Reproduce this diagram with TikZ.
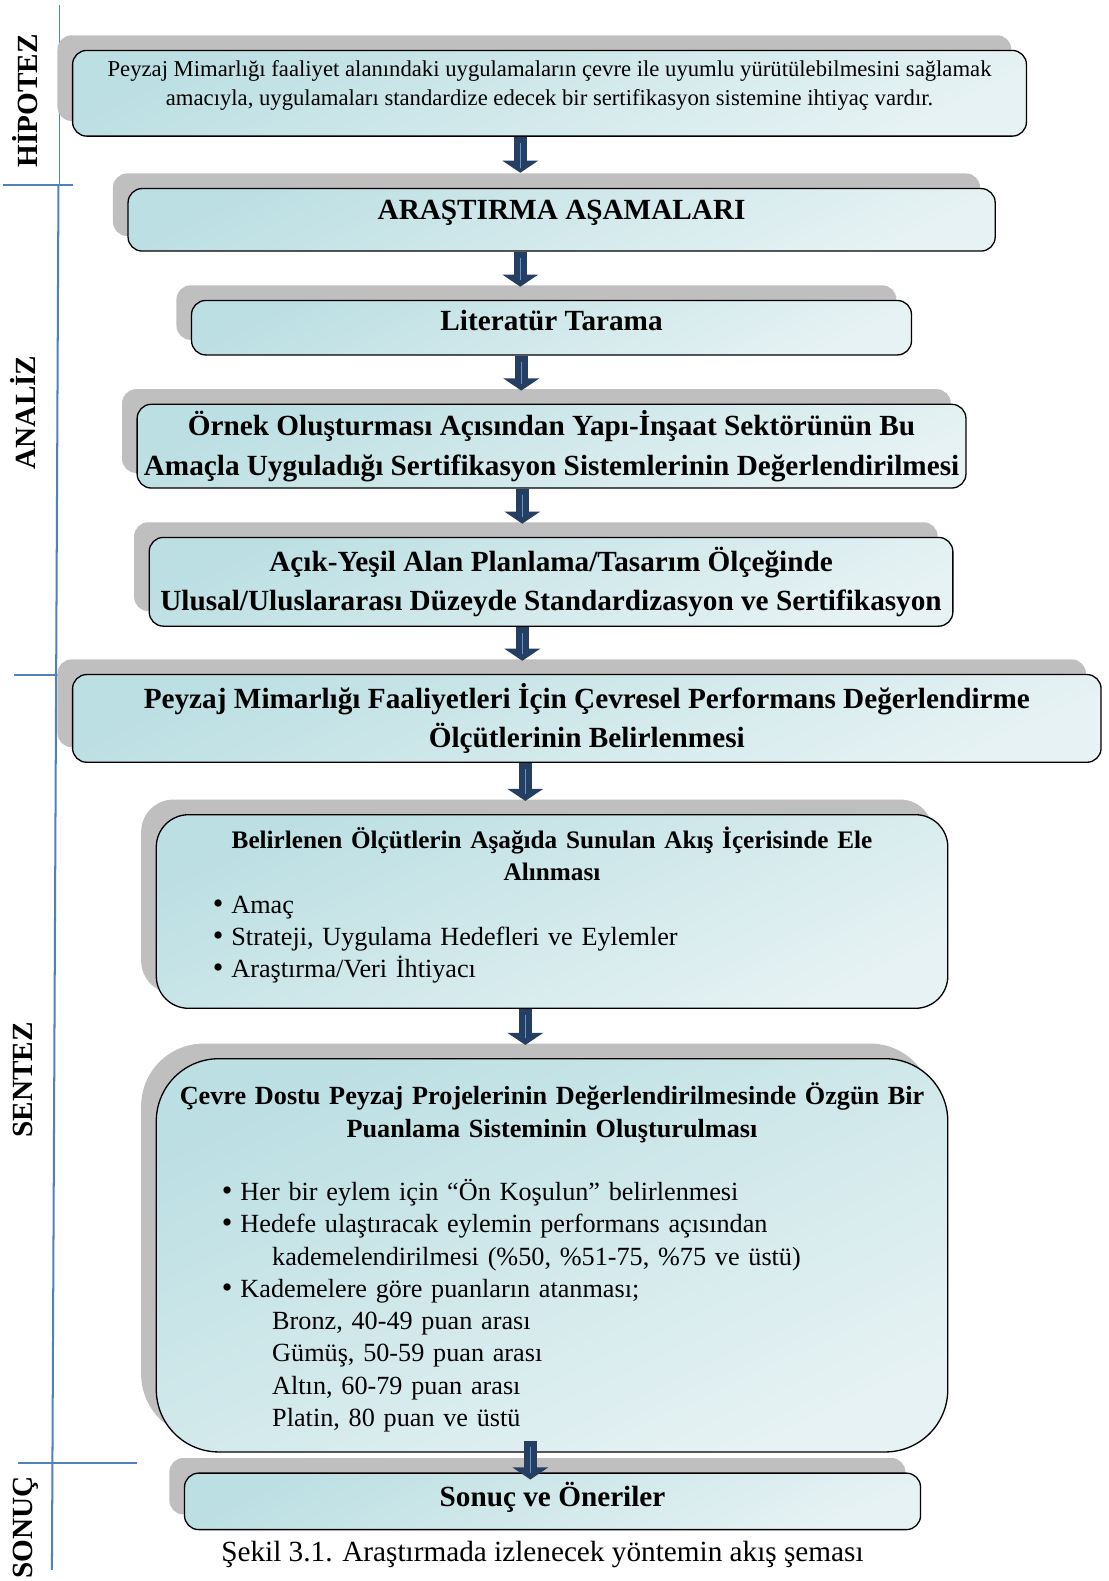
\documentclass[tikz,border=0pt]{standalone}
\usepackage{fontspec}
\setmainfont{Liberation Serif}
\usetikzlibrary{shadows,arrows.meta}
\definecolor{boxtop}{RGB}{188,223,227}
\definecolor{boxbot}{RGB}{230,242,243}
\definecolor{shadowgray}{RGB}{191,191,191}
\definecolor{arrowblue}{RGB}{36,63,98}
\definecolor{arrowlight}{RGB}{100,145,210}
\definecolor{sideblue}{RGB}{79,129,189}
\newcommand{\blt}{{\fontsize{30}{32}\selectfont•}\hspace{8pt}}
\tikzset{
  flowbox/.style={draw,line width=1.3pt,rounded corners=14pt,
    top color=boxtop,bottom color=boxbot,shading angle=25,
    drop shadow={shadow xshift=-15pt,shadow yshift=15pt,fill=shadowgray,opacity=1},
    align=center,inner sep=0pt},
  headfont/.style={font=\bfseries\fontsize{29}{39}\selectfont},
  sidefont/.style={font=\bfseries\fontsize{29}{29}\selectfont,rotate=90},
  flowarrow/.style={arrowblue,line width=13pt,-{Triangle[width=35pt,length=12pt]},
    shorten >=13pt,
    postaction={draw=arrowlight,line width=1.5pt,-,shorten >=20pt,shorten <=6pt}},
  sideline/.style={sideblue,line width=2pt}
}
\begin{document}
\begin{tikzpicture}[x=1pt,y=-1pt]
\useasboundingbox (0,0) rectangle (1099,1568);
% side bars
\draw [sideblue,line width=1pt] (59,5) -- (59,183);
\draw [sideline] (3,183) -- (72,183);
\draw [sideline] (58,183) -- (51.5,1557);
\draw [sideline] (14,669) -- (92,669);
\draw [sideline] (18,1451) -- (136,1451);
\node [sidefont](Hip) at (25,100){HİPOTEZ};
\node [sidefont](Ana) at (23,409){ANALİZ};
\node [sidefont](Sen) at (23,1071){SENTEZ};
\node [sidefont](Son) at (26,1515){SONUÇ};
% boxes
\node [flowbox,minimum width=946,minimum height=85,font=\fontsize{22.5}{29}\selectfont,text depth=20pt](Hipotez) at (545,92.5)
  {Peyzaj Mimarlığı faaliyet alanındaki uygulamaların çevre ile uyumlu yürütülebilmesini sağlamak\\
   amacıyla, uygulamaları standardize edecek bir sertifikasyon sistemine ihtiyaç vardır.};
\node [flowbox,headfont,minimum width=860,minimum height=62,text depth=20pt](Asama) at (557,218){ARAŞTIRMA AŞAMALARI};
\node [flowbox,headfont,minimum width=714,minimum height=54,text depth=14pt](Lit) at (547,325){Literatür Tarama};
\node [flowbox,headfont,minimum width=822,minimum height=83](Ornek) at (547,442.5)
  {Örnek Oluşturması Açısından Yapı-İnşaat Sektörünün Bu\\
   Amaçla Uyguladığı Sertifikasyon Sistemlerinin Değerlendirilmesi};
\node [flowbox,headfont,minimum width=797,minimum height=88](Acik) at (546.5,577)
  {Açık-Yeşil Alan Planlama/Tasarım Ölçeğinde\\
   Ulusal/Uluslararası Düzeyde Standardizasyon ve Sertifikasyon};
\node [flowbox,headfont,minimum width=1020,minimum height=87](Olcut) at (582,712.5)
  {Peyzaj Mimarlığı Faaliyetleri İçin Çevresel Performans Değerlendirme\\
   Ölçütlerinin Belirlenmesi};
\node [flowbox,rounded corners=32pt,minimum width=785,minimum height=192,text width=765,align=left,
  font=\fontsize{26}{32}\selectfont](Belir) at (547.5,904)
  {{\centering\bfseries\fontsize{25}{32}\selectfont Belirlenen Ölçütlerin Aşağıda Sunulan Akış İçerisinde Ele\\ Alınması\par}
   \hspace*{46pt}\blt Amaç\\
   \hspace*{46pt}\blt Strateji, Uygulama Hedefleri ve Eylemler\\
   \hspace*{46pt}\blt Araştırma/Veri İhtiyacı\\[-14pt]\mbox{}};
\node [flowbox,rounded corners=62pt,minimum width=785,minimum height=390,text width=765,align=left,
  font=\fontsize{26}{32}\selectfont](Puan) at (547.5,1245)
  {\mbox{}\\[-6pt]{\centering\bfseries\fontsize{26}{32}\selectfont Çevre Dostu Peyzaj Projelerinin Değerlendirilmesinde Özgün Bir\\ Puanlama Sisteminin Oluşturulması\par}
   \vspace{31pt}
   \hspace*{55pt}\blt Her bir eylem için “Ön Koşulun” belirlenmesi\\
   \hspace*{55pt}\blt Hedefe ulaştıracak eylemin performans açısından\\
   \hspace*{105pt}kademelendirilmesi (\%50, \%51-75, \%75 ve üstü)\\
   \hspace*{55pt}\blt Kademelere göre puanların atanması;\\
   \hspace*{105pt}Bronz, 40-49 puan arası\\
   \hspace*{105pt}Gümüş, 50-59 puan arası\\
   \hspace*{105pt}Altın, 60-79 puan arası\\
   \hspace*{105pt}Platin, 80 puan ve üstü};
\node [flowbox,headfont,minimum width=730,minimum height=56,text depth=14pt](Sonuc) at (548,1489){Sonuç ve Öneriler};
\node [font=\fontsize{29}{30}\selectfont](Sekil) at (538,1542){Şekil 3.1. Araştırmada izlenecek yöntemin akış şeması};
% arrows
\coordinate (A1) at (516,0);
\coordinate (A3) at (517,0);
\coordinate (A4) at (518,0);
\coordinate (A6) at (521,0);
\coordinate (A8) at (526,0);
\draw [flowarrow,shorten >=15pt](Hipotez.south -| A1) -- (Asama.north -| A1);
\draw [flowarrow](Asama.south -| A1) -- (Lit.north -| A1);
\draw [flowarrow](Lit.south -| A3) -- (Ornek.north -| A3);
\draw [flowarrow](Ornek.south -| A4) -- (Acik.north -| A4);
\draw [flowarrow](Acik.south -| A4) -- (Olcut.north -| A4);
\draw [flowarrow](Olcut.south -| A6) -- (Belir.north -| A6);
\draw [flowarrow](Belir.south -| A6) -- (Puan.north -| A6);
\draw [arrowblue,line width=13pt,-{Triangle[width=35pt,length=12pt]},shorten <=-12pt,shorten >=-7pt,
  postaction={draw=arrowlight,line width=1.5pt,-,shorten <=-6pt,shorten >=-1pt}](Puan.south -| A8) -- (Sonuc.north -| A8);
\end{tikzpicture}
\end{document}
